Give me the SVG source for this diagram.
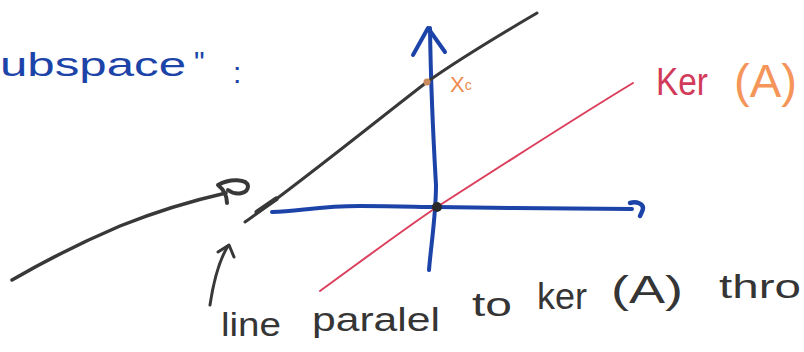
<svg xmlns="http://www.w3.org/2000/svg" width="804" height="352" viewBox="0 0 804 352">
<style>
.ink{fill:none;stroke-linecap:round;stroke-linejoin:round}
.blue{stroke:#1c43a8}
.blk{stroke:#383838}
.txt{font-family:"Liberation Sans",Arial,sans-serif}
</style>
<rect width="804" height="352" fill="#ffffff"/>
<g id="title">
<text class="txt" x="0" y="76" font-size="34" fill="#1c43a8" textLength="186" lengthAdjust="spacingAndGlyphs">ubspace</text>
<text class="txt" x="194" y="72" font-size="30" fill="#1c43a8">"</text>
<text class="txt" x="233" y="83" font-size="30" fill="#1c43a8">:</text>
</g>
<g id="axes">
<path class="ink blue" stroke-width="4" d="M272,212 C300,211 320,206 360,206 C400,206 420,207 437,207 C500,208 580,209 632,209"/>
<path class="ink blue" stroke-width="4.5" d="M630,203 C637,201 643,204 643,208 C643,211 641,214 640,216"/>
<path class="ink blue" stroke-width="4" d="M429,270 C431,245 436,215 436,185 C434,150 431,100 430,28"/>
<path class="ink blue" stroke-width="4" d="M413,55 L428,28 L445,52"/>
</g>
<g id="kernel-line">
<path class="ink" stroke="#dc3f5c" stroke-width="2" d="M320,291 C360,262 400,232 437,207 C510,160 580,115 633,83"/>
</g>
<g id="parallel-line">
<path class="ink blk" stroke-width="3" d="M245,222 C300,183 380,118 427,82 C465,55 510,29 537,13"/>
<path class="ink blk" stroke-width="5" d="M257,212 L276,199"/>
<circle cx="427" cy="82" r="3.5" fill="#c98a5e"/>
<text class="txt" x="450" y="92" font-size="22" fill="#f08a4f">X<tspan font-size="14" dy="-2">c</tspan></text>
</g>
<g id="origin">
<circle cx="437" cy="207" r="5" fill="#2a2a2a"/>
</g>
<g id="kernel-label">
<text class="txt" x="656" y="95" font-size="38" fill="#d23a5a" textLength="52" lengthAdjust="spacingAndGlyphs">Ker</text>
<text class="txt" x="734" y="97" font-size="46" fill="#f5955a" textLength="63" lengthAdjust="spacingAndGlyphs">(A)</text>
</g>
<g id="connectors">
<path class="ink blk" stroke-width="3.5" d="M12,280 C50,258 80,243 120,226 C160,210 195,200 226,193"/>
<path class="ink blk" stroke-width="4" d="M227,203 C227,195 223,189 218,185 C230,178 247,179 248,186 C248,194 236,196 228,190"/>
<path class="ink blk" stroke-width="3" d="M210,305 C213,285 218,262 228,246"/>
<path class="ink blk" stroke-width="3" d="M218,252 L229,245 L234,257"/>
</g>
<g id="caption" class="txt" fill="#353535" font-size="34">
<text x="221" y="336" textLength="60" lengthAdjust="spacingAndGlyphs">line</text>
<text x="312" y="331" textLength="128" lengthAdjust="spacingAndGlyphs">paralel</text>
<text x="472" y="316" textLength="40" lengthAdjust="spacingAndGlyphs">to</text>
<text x="537" y="309" font-size="36" textLength="50" lengthAdjust="spacingAndGlyphs">ker</text>
<text x="611" y="303" font-size="38" textLength="72" lengthAdjust="spacingAndGlyphs">(A)</text>
<text x="719" y="298" textLength="82" lengthAdjust="spacingAndGlyphs">thro</text>
</g>
</svg>
